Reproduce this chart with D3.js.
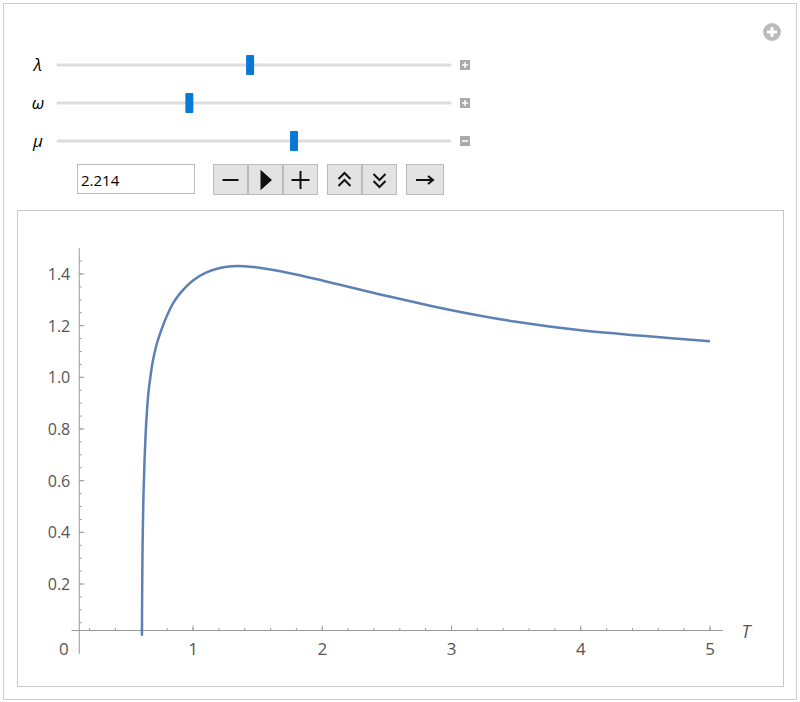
<!DOCTYPE html><html><head><meta charset="utf-8"><script src="https://cdn.jsdelivr.net/npm/d3@7"></script>
<style>body{margin:0;background:#fff}</style></head><body><svg id="c" width="800" height="702"></svg>
<script>
const T=[0.605,0.607,0.61,0.615,0.62,0.63,0.64,0.655,0.67,0.69,0.72,0.76,0.8,0.85,0.9,1.0,1.1,1.2,1.3,1.4,1.5,1.75,2,2.5,3,3.5,4,4.5,5];
const V=[0,0.2,0.35,0.5,0.6,0.74,0.84,0.94,1.0,1.065,1.13,1.19,1.24,1.29,1.325,1.375,1.405,1.422,1.43,1.43,1.425,1.403,1.375,1.315,1.26,1.215,1.182,1.16,1.14];
const xTicks=[1,2,3,4,5], yTicks=[0.2,0.4,0.6,0.8,1.0,1.2,1.4];
const sliders=[{n:"λ",p:0.49,s:"+"},{n:"ω",p:0.335,s:"+"},{n:"μ",p:0.602,s:"−"}];
const svg=d3.select("#c");
const F="Open Sans";
svg.append("rect").attr("x",3.5).attr("y",3.5).attr("width",793).attr("height",696).attr("fill","#fff").attr("stroke","#ccc");
svg.append("rect").attr("x",17.5).attr("y",210.5).attr("width",766).attr("height",476).attr("fill","#fff").attr("stroke","#c8c8c8");
svg.append("circle").attr("cx",772).attr("cy",32).attr("r",9).attr("fill","#bbb");
svg.append("path").attr("d","M767,32h10M772,27v10").attr("stroke","#fff").attr("stroke-width",3);
const sl=d3.scaleLinear().domain([0,1]).range([58,450]);
sliders.forEach((d,i)=>{const y=65+i*38;
 svg.append("text").attr("x",38).attr("y",y+6).attr("text-anchor","middle").attr("font-family",F).attr("font-style","italic").attr("font-size",17).text(d.n);
 svg.append("line").attr("x1",sl(0)).attr("x2",sl(1)).attr("y1",y).attr("y2",y).attr("stroke","#ddd").attr("stroke-width",3).attr("stroke-linecap","round");
 svg.append("rect").attr("x",sl(d.p)-4).attr("y",y-10).attr("width",8).attr("height",20).attr("fill","#0a78d7").attr("rx",1);
 svg.append("rect").attr("x",460).attr("y",y-5).attr("width",10).attr("height",10).attr("fill","#aaa");
 svg.append("path").attr("d",d.s=="+"?`M462,${y}h6M465,${y-3}v6`:`M462,${y}h6`).attr("stroke","#fff").attr("stroke-width",1.5);
});
svg.append("rect").attr("x",77.5).attr("y",164.5).attr("width",117).attr("height",29).attr("fill","#fff").attr("stroke","#bbb");
svg.append("text").attr("x",81).attr("y",186).attr("font-family",F).attr("font-size",15).text("2.214");
const btns=[{x:213,g:"M-8,0h16"},{x:248,g:"M-4,-8L5,0L-4,8Z"},{x:283,g:"M-9,0h18M0,-9v18"},{x:327,g:"M-6,-1l6,-6l6,6M-6,6l6,-6l6,6"},{x:362,g:"M-6,-6l6,6l6,-6M-6,1l6,6l6,-6"},{x:406,g:"M-9,0h16M3,-4l5,4l-5,4"}];
btns.forEach(b=>{const w=b.x==406?37:34;
 svg.append("rect").attr("x",b.x+0.5).attr("y",164.5).attr("width",w).attr("height",30).attr("fill","#e3e3e3").attr("stroke","#bbb");
 svg.append("path").attr("transform",`translate(${b.x+w/2+0.5},180)`).attr("d",b.g).attr("stroke","#111").attr("stroke-width",2).attr("fill",b.x==248?"#111":"none");});
const x=d3.scaleLinear().domain([0,5]).range([63.75,710]);
const y=d3.scaleLinear().domain([0,1.4]).range([635.7,274]);
const ax0=0.12, ay0=0.02;
const gx=svg.append("g").attr("transform",`translate(0,${y(ay0)})`);
gx.append("line").attr("x1",x(0.06)).attr("x2",x(5.1)).attr("stroke","#999");
gx.selectAll(".mx").data(d3.range(0.2,5.01,0.2)).join("line").attr("x1",d=>x(d)).attr("x2",d=>x(d)).attr("y1",0).attr("y2",-2.5).attr("stroke","#999");
gx.selectAll(".Mx").data(xTicks).join("line").attr("x1",d=>x(d)).attr("x2",d=>x(d)).attr("y1",0).attr("y2",-5).attr("stroke","#999");
gx.selectAll("text").data([0,...xTicks]).join("text").attr("x",d=>x(d)).attr("y",24).attr("text-anchor","middle").attr("fill","#555").attr("font-family",F).attr("font-size",17).text(d=>d);
svg.append("text").attr("x",746).attr("y",638).attr("text-anchor","middle").attr("font-family",F).attr("font-style","italic").attr("font-size",18).attr("fill","#555").text("T");
const gy=svg.append("g").attr("transform",`translate(${x(ax0)},0)`);
gy.append("line").attr("y1",y(1.5)).attr("y2",y(-0.07)).attr("stroke","#999");
gy.selectAll(".my").data(d3.range(0.05,1.5,0.05)).join("line").attr("y1",d=>y(d)).attr("y2",d=>y(d)).attr("x1",0).attr("x2",2.5).attr("stroke","#999");
gy.selectAll(".My").data(yTicks).join("line").attr("y1",d=>y(d)).attr("y2",d=>y(d)).attr("x1",0).attr("x2",5).attr("stroke","#999");
gy.selectAll("text").data(yTicks).join("text").attr("x",-9).attr("y",d=>y(d)+6).attr("text-anchor","end").attr("fill","#555").attr("font-family",F).attr("font-size",16).text(d=>d.toFixed(1));
svg.append("path").datum(T.map((t,i)=>[t,V[i]])).attr("d",d3.line().x(d=>x(d[0])).y(d=>y(d[1])).curve(d3.curveCatmullRom)).attr("fill","none").attr("stroke","#5e81b5").attr("stroke-width",2.5);
</script></body></html>
